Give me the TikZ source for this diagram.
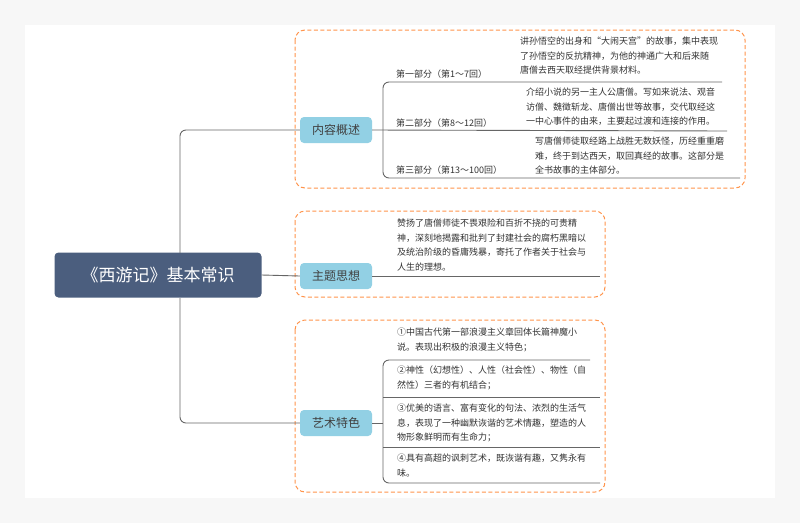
\documentclass[tikz,border=0pt]{standalone}
\usepackage{fontspec}
\setmainfont{Noto Sans CJK SC}
\begin{document}
\begin{tikzpicture}[x=1pt,y=-1pt,
  conn/.style={draw=gray!80!black, line width=0.9pt, rounded corners=6pt},
  topic/.style={fill=topicc, rounded corners=4pt, minimum width=72pt, minimum height=26pt, font=\fontsize{12}{14}\selectfont, text=black!75},
  grp/.style={draw=orange!80!red!70, dash pattern=on 4pt off 2.5pt, line width=1pt, rounded corners=10pt},
  lbl/.style={anchor=south west, font=\fontsize{9}{12}\selectfont, text=black!80, inner sep=1pt},
  desc/.style={anchor=north west, align=left, font=\fontsize{9}{14.5}\selectfont, text=black!80, inner sep=0pt}]
\definecolor{topicc}{HTML}{92D0E4}
\definecolor{rootc}{HTML}{4B5E7E}
\useasboundingbox (0,0) rectangle (800,523);
\fill[gray!6] (0,0) rectangle (800,523);
\fill[white] (25,25) rectangle (775,498);
% groups
\draw[grp] (295,30) rectangle (745,188);
\draw[grp] (295,211) rectangle (605,297);
\draw[grp] (295,320) rectangle (605,492);
% root
\node[fill=rootc, rounded corners=4pt, minimum width=207pt, minimum height=45pt, text=white, font=\fontsize{17}{20}\selectfont] (root) at (158,275) {《西游记》基本常识};
\node[topic] (t1) at (336,130) {内容概述};
\node[topic] (t2) at (336,276) {主题思想};
\node[topic] (t3) at (336,423) {艺术特色};
\coordinate (j) at (180,253);
\coordinate (jb) at (180,298);
\draw[conn] (j) -- (180,130) -- (t1.west);
\draw[conn] (jb) -- (180,423) -- (t3.west);
\draw[conn] (root.east) -- (t2.west);
% branch 1
\coordinate (e1) at (722,82);
\coordinate (e2) at (727,131);
\coordinate (e3) at (740,178);
\draw[conn] (e1) -- (383,82) -- (383,178) -- (e3);
\draw[conn] (t1.east) -- (e2);
\node[lbl] (l1) at (395,80) {第一部分（第1～7回）};
\node[lbl] (l2) at (395,129) {第二部分（第8～12回）};
\node[lbl] (l3) at (395,176) {第三部分（第13～100回）};
\node[desc] (d1) at (520,37) {讲孙悟空的出身和“大闹天宫”的故事，集中表现\\了孙悟空的反抗精神，为他的神通广大和后来随\\唐僧去西天取经提供背景材料。};
\node[desc] (d2) at (526,88) {介绍小说的另一主人公唐僧。写如来说法、观音\\访僧、魏徵斩龙、唐僧出世等故事，交代取经这\\一中心事件的由来，主要起过渡和连接的作用。};
\node[desc] (d3) at (535,137) {写唐僧师徒取经路上战胜无数妖怪，历经重重磨\\难，终于到达西天，取回真经的故事。这部分是\\全书故事的主体部分。};
% branch 2
\coordinate (e4) at (600,276);
\draw[conn] (t2.east) -- (e4);
\node[desc] (d4) at (397,219) {赞扬了唐僧师徒不畏艰险和百折不挠的可贵精\\神，深刻地揭露和批判了封建社会的腐朽黑暗以\\及统治阶级的昏庸残暴，寄托了作者关于社会与\\人生的理想。};
% branch 3
\coordinate (f1) at (590,360);
\coordinate (f2) at (600,397);
\coordinate (f3) at (600,447);
\coordinate (f4) at (600,483);
\coordinate (fj) at (383,423);
\draw[conn] (f1) -- (383,360) -- (383,483) -- (f4);
\draw[conn] (383,397) -- (f2);
\draw[conn] (383,447) -- (f3);
\draw[conn] (t3.east) -- (fj);
\node[desc] (a1) at (397,328) {①中国古代第一部浪漫主义章回体长篇神魔小\\说。表现出积极的浪漫主义特色；};
\node[desc] (a2) at (397,366) {②神性（幻想性）、人性（社会性）、物性（自\\然性）三者的有机结合；};
\node[desc] (a3) at (397,404) {③优美的语言、富有变化的句法、浓烈的生活气\\息，表现了一种幽默诙谐的艺术情趣，塑造的人\\物形象鲜明而有生命力；};
\node[desc] (a4) at (397,454) {④具有高超的讽刺艺术，既诙谐有趣，又隽永有\\味。};
\end{tikzpicture}
\end{document}
